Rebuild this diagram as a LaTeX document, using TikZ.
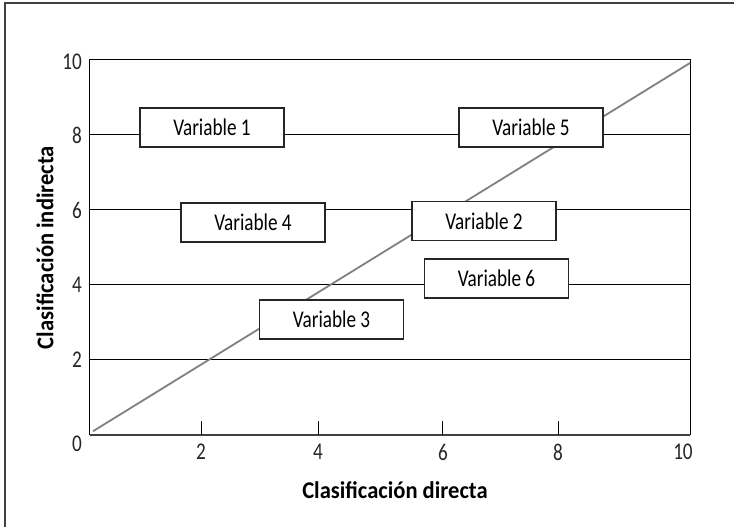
\documentclass[tikz,border=0pt]{standalone}
\usepackage{fontspec}
\setmainfont{Carlito}[FakeStretch=0.8]
\newfontfamily\titelfont{Carlito}[FakeStretch=0.94]

\begin{document}
\begin{tikzpicture}[x=60pt,y=37.5pt,font=\fontsize{24}{28}\selectfont]
			\tikzset{VarStyle/.style = {draw=black!85, fill=white, line width=1.2pt,
					minimum width=144pt, minimum height=39pt, inner sep=0pt}}
			\tikzset{DiagStyle/.style = {draw=black!50, line width=1.8pt}}
			\tikzset{NumStyle/.style = {inner sep=0pt, text=black!85}}
			\tikzset{TitelStyle/.style = {font=\fontsize{24}{28}\selectfont\titelfont\bfseries}}
			\useasboundingbox (-1.5,-2.4533) rectangle (10.7333,11.6);
			
			% Rahmen
			\draw[line width=1.6pt, black!75] (-1.4167,-3) rectangle (11.2,11.52);
			
			% Achsen
			\coordinate (O) at (0,0);
			\coordinate (xe) at (10,0);
			\coordinate (ye) at (0,10);
			\coordinate (c) at (10,10);
			\draw[line width=1pt] (O) -- (ye) -- (c) -- (xe);
			\draw[line width=1.6pt, black!75] (O) -- (xe);
			\foreach \y in {2,4,6,8}{
				\coordinate (l\y) at (0,\y);
				\coordinate (r\y) at (10,\y);
				\draw[line width=1pt] (l\y) -- (r\y);
				\node[NumStyle, anchor=east] (yl\y) at (-0.133,\y) {\y};
			}
			\node[NumStyle, anchor=east] (yl10) at (-0.133,9.95) {10};
			\node[NumStyle, anchor=north east] (yl0) at (-0.133,-0.03) {0};
			\foreach \x/\t in {1.85/2, 3.8/4, 5.883/6, 7.8/8}{
				\coordinate (t\t) at (\x,0);
				\draw[line width=1pt] (t\t) -- ++(0,0.373);
				\node[NumStyle, anchor=north] (xl\t) at (\x,-0.24) {\t};
			}
			\node[NumStyle, anchor=north] (xl10) at (9.883,-0.24) {10};
			
			% Titel
			\node[TitelStyle] (xlab) at (5.083,-1.467) {Clasificación directa};
			\node[TitelStyle, rotate=90] (ylab) at (-0.75,5) {Clasificación indirecta};
			
			% Diagonale
			\coordinate (d0) at (0.05,0.1);
			\coordinate (d1) at (10,9.92);
			\draw[DiagStyle] (d0) -- (d1);
			
			% Variablen
			\node[VarStyle] (v1) at (2.033,8.2) {Variable 1};
			\node[VarStyle] (v5) at (7.35,8.2) {Variable 5};
			\node[VarStyle] (v4) at (2.717,5.667) {Variable 4};
			\node[VarStyle] (v2) at (6.567,5.707) {Variable 2};
			\node[VarStyle] (v6) at (6.775,4.173) {Variable 6};
			\node[VarStyle] (v3) at (4.025,3.08) {Variable 3};
		\end{tikzpicture}
\end{document}
